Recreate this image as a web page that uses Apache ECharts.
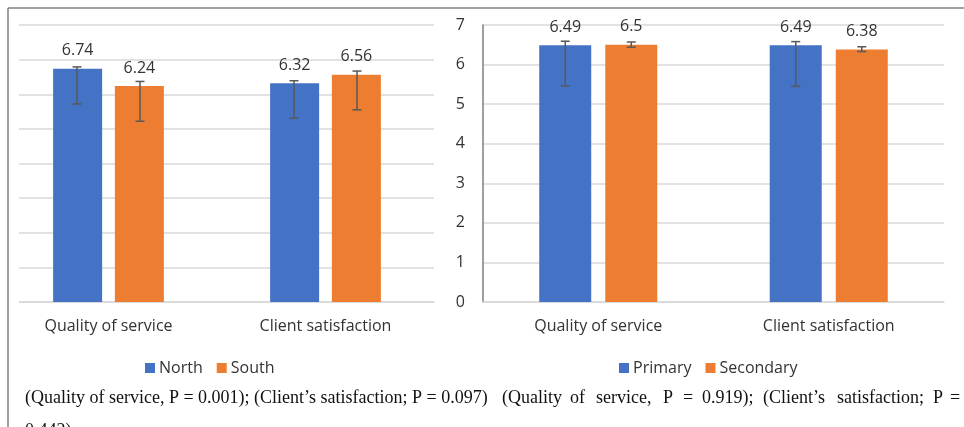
<!DOCTYPE html>
<html>
<head>
<meta charset="utf-8">
<script src="https://cdn.jsdelivr.net/npm/echarts@6/dist/echarts.min.js"></script>
<style>
  html, body { margin: 0; padding: 0; background: #ffffff; }
  #chart { width: 964px; height: 427px; }
</style>
</head>
<body>
<div id="chart"></div>
<script>
// Categories shared by both panels
var categories = ['Quality of service', 'Client satisfaction'];

// Panel 1: region
var northMeans = [6.74, 6.32];
var southMeans = [6.24, 6.56];
var northLow = [5.72, 5.31];
var northHigh = [6.79, 6.39];
var southLow = [5.22, 5.55];
var southHigh = [6.37, 6.67];

// Panel 2: facility level
var primaryMeans = [6.49, 6.49];
var secondaryMeans = [6.5, 6.38];
var primaryLow = [5.46, 5.45];
var primaryHigh = [6.59, 6.58];
var secondaryLow = [6.44, 6.33];
var secondaryHigh = [6.57, 6.45];

var leftTicks = [0, 1, 2, 3, 4, 5, 6, 7, 8];
var rightTicks = ['0', '1', '2', '3', '4', '5', '6', '7'];

var BLUE = '#4472C4';
var ORANGE = '#ED7D31';
var TEXT = '#333333';
var SANS = '"Open Sans", sans-serif';
var SERIF = '"Liberation Serif", "Times New Roman", serif';
var CAPTION_FONT = '18px ' + SERIF;

function errorData(low, high) {
  return low.map(function (v, i) { return [i, v, high[i]]; });
}

// Error bar drawn at a pixel offset from the category centre
function errorRenderer(offset) {
  return function (params, api) {
    var idx = api.value(0);
    var lo = api.coord([idx, api.value(1)]);
    var hi = api.coord([idx, api.value(2)]);
    var x = lo[0] + offset;
    var cap = 4.5;
    var style = { stroke: '#595959', lineWidth: 1.5 };
    return {
      type: 'group',
      children: [
        { type: 'line', shape: { x1: x, y1: lo[1], x2: x, y2: hi[1] }, style: style },
        { type: 'line', shape: { x1: x - cap, y1: lo[1], x2: x + cap, y2: lo[1] }, style: style },
        { type: 'line', shape: { x1: x - cap, y1: hi[1], x2: x + cap, y2: hi[1] }, style: style }
      ]
    };
  };
}

var labelStyle = {
  show: true, position: 'top', distance: 10,
  fontFamily: SANS, fontSize: 16, color: TEXT
};

var chart = echarts.init(document.getElementById('chart'), null, { renderer: 'canvas' });

var captionWords = [
  { t: '(Quality', x: 502 }, { t: 'of', x: 570 }, { t: 'service,', x: 596 },
  { t: 'P', x: 663 }, { t: '=', x: 683 }, { t: '0.919);', x: 702 },
  { t: '(Client\u2019s', x: 763 }, { t: 'satisfaction;', x: 837 },
  { t: 'P', x: 933 }, { t: '=', x: 950 }
];

var graphics = [
  // white mask at the cropped left edge of panel 1
  { type: 'rect', shape: { x: 0, y: 15, width: 19, height: 300 }, style: { fill: '#ffffff' }, z: 50 },
  // frame lines
  { type: 'line', shape: { x1: 8, y1: 8, x2: 964, y2: 8 }, style: { stroke: '#808080', lineWidth: 1.5 }, z: 60 },
  { type: 'line', shape: { x1: 8, y1: 8, x2: 8, y2: 427 }, style: { stroke: '#808080', lineWidth: 1.5 }, z: 60 },
  {
    type: 'text', x: 25, y: 398, z: 60,
    style: {
      text: '(Quality of service, P = 0.001); (Client\u2019s satisfaction; P = 0.097)',
      font: CAPTION_FONT, fill: '#111111', textVerticalAlign: 'middle'
    }
  },
  {
    type: 'text', x: 25, y: 431, z: 60,
    style: { text: '0.442)', font: CAPTION_FONT, fill: '#111111', textVerticalAlign: 'middle' }
  }
];
captionWords.forEach(function (w) {
  graphics.push({
    type: 'text', x: w.x, y: 398, z: 60,
    style: { text: w.t, font: CAPTION_FONT, fill: '#111111', textVerticalAlign: 'middle' }
  });
});

var option = {
  animation: false,
  backgroundColor: '#ffffff',
  grid: [
    { left: -6, top: 25, width: 440, height: 277 },
    { left: 483, top: 25, width: 461, height: 277 }
  ],
  legend: [
    {
      data: ['North', 'South'], left: 140, top: 355,
      itemWidth: 10, itemHeight: 10, itemGap: 14, icon: 'rect',
      textStyle: { fontFamily: SANS, fontSize: 16, color: TEXT, padding: [0, 0, 0, -1] }
    },
    {
      data: ['Primary', 'Secondary'], left: 614, top: 355,
      itemWidth: 10, itemHeight: 10, itemGap: 14, icon: 'rect',
      textStyle: { fontFamily: SANS, fontSize: 16, color: TEXT, padding: [0, 0, 0, -1] }
    }
  ],
  xAxis: [
    {
      type: 'category', gridIndex: 0, data: categories,
      axisLine: { lineStyle: { color: '#d9d9d9', width: 1.5 } },
      axisTick: { show: false },
      axisLabel: { fontFamily: SANS, fontSize: 16, color: TEXT, margin: 16 }
    },
    {
      type: 'category', gridIndex: 1, data: categories,
      axisLine: { lineStyle: { color: '#d9d9d9', width: 1.5 } },
      axisTick: { show: false },
      axisLabel: { fontFamily: SANS, fontSize: 16, color: TEXT, margin: 16 }
    }
  ],
  yAxis: [
    {
      type: 'value', gridIndex: 0, min: leftTicks[0], max: leftTicks[leftTicks.length - 1], interval: 1,
      axisLine: { show: false }, axisTick: { show: false }, axisLabel: { show: false },
      splitLine: { lineStyle: { color: '#d9d9d9', width: 1.5 } }
    },
    {
      type: 'value', gridIndex: 1, min: 0, max: rightTicks.length - 1, interval: 1,
      axisLine: { show: true, lineStyle: { color: '#7f7f7f', width: 1.5 } },
      axisTick: { show: false },
      axisLabel: {
        fontFamily: SANS, fontSize: 16, color: TEXT, margin: 18,
        formatter: function (v) { return rightTicks[v]; }
      },
      splitLine: { lineStyle: { color: '#d9d9d9', width: 1.5 } }
    }
  ],
  series: [
    {
      name: 'North', type: 'bar', xAxisIndex: 0, yAxisIndex: 0, data: northMeans,
      barWidth: 49, barGap: '26%', itemStyle: { color: BLUE }, label: labelStyle
    },
    {
      name: 'South', type: 'bar', xAxisIndex: 0, yAxisIndex: 0, data: southMeans,
      barWidth: 49, barGap: '26%', itemStyle: { color: ORANGE }, label: labelStyle
    },
    {
      name: 'Primary', type: 'bar', xAxisIndex: 1, yAxisIndex: 1, data: primaryMeans,
      barWidth: 52, barGap: '27%', itemStyle: { color: BLUE }, label: labelStyle
    },
    {
      name: 'Secondary', type: 'bar', xAxisIndex: 1, yAxisIndex: 1, data: secondaryMeans,
      barWidth: 52, barGap: '27%', itemStyle: { color: ORANGE }, label: labelStyle
    },
    {
      type: 'custom', xAxisIndex: 0, yAxisIndex: 0, z: 10, clip: false,
      renderItem: errorRenderer(-31.5), data: errorData(northLow, northHigh)
    },
    {
      type: 'custom', xAxisIndex: 0, yAxisIndex: 0, z: 10, clip: false,
      renderItem: errorRenderer(31.5), data: errorData(southLow, southHigh)
    },
    {
      type: 'custom', xAxisIndex: 1, yAxisIndex: 1, z: 10, clip: false,
      renderItem: errorRenderer(-33), data: errorData(primaryLow, primaryHigh)
    },
    {
      type: 'custom', xAxisIndex: 1, yAxisIndex: 1, z: 10, clip: false,
      renderItem: errorRenderer(33), data: errorData(secondaryLow, secondaryHigh)
    }
  ],
  graphic: graphics
};

chart.setOption(option);
</script>
</body>
</html>
